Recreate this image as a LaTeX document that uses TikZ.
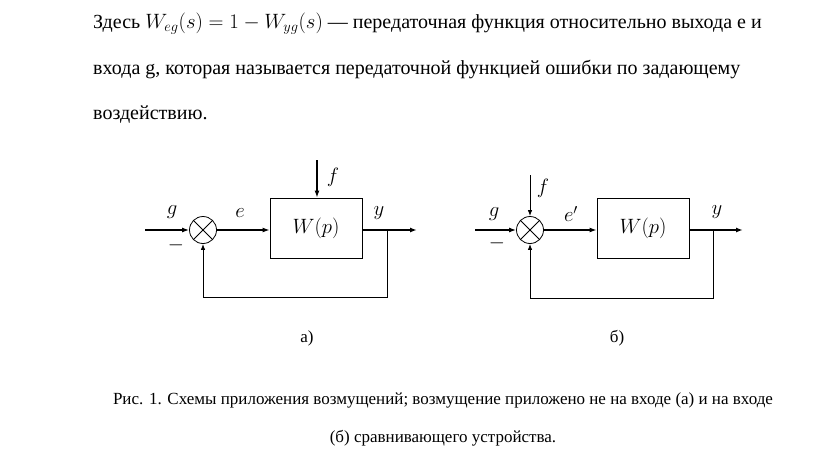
\documentclass[tikz,border=0pt]{standalone}
\usepackage{fontspec}
\setmainfont{Liberation Serif}
\usetikzlibrary{arrows.meta}

\begin{document}
\begin{tikzpicture}[x=1pt, y=-1pt]
\tikzstyle{textStyle} = [anchor=base west, inner sep=0pt, font=\fontsize{20}{22}\selectfont]
\tikzstyle{captionStyle} = [anchor=base, inner sep=0pt, font=\fontsize{17}{20}\selectfont]
\tikzstyle{sumStyle} = [shape = circle, minimum size = 27pt, inner sep = 0pt, draw, line width = 0.8pt]
\tikzstyle{blockStyle} = [shape = rectangle, minimum width = 92pt, minimum height = 60pt, draw, line width = 0.8pt, font=\fontsize{20}{22}\selectfont]
\tikzstyle{labelStyle} = [inner sep = 0pt, font=\fontsize{20}{22}\selectfont]
\tikzstyle{signal} = [line width = 1.4pt, -{Latex[length=7pt, width=5pt]}]
\tikzstyle{loop} = [line width = 0.9pt]
\useasboundingbox (0,0) rectangle (818,455);
% text above
\node[textStyle] (t1) at (93,28) {Здесь $W_{eg}(s)=1-W_{yg}(s)$ — передаточная функция относительно выхода е и};
\node[textStyle] (t2) at (93,74) {входа g, которая называется передаточной функцией ошибки по задающему};
\node[textStyle] (t3) at (93,119) {воздействию.};
% scheme a)
\node[sumStyle] (sa) at (203,230) {};
\draw[line width = 0.8pt] (sa.45) -- (sa.225) (sa.135) -- (sa.-45);
\node[blockStyle] (wa) at (316,228) {$W(p)$};
\coordinate (ga) at (145,230);
\coordinate (fa) at (317,160);
\coordinate (oa) at (417,230);
\coordinate (ba) at (387,230);
\coordinate (da) at (387,297);
\coordinate (ca) at (203,297);
\draw[signal] (ga) -- (sa);
\draw[signal] (sa) -- (wa.west |- sa);
\draw[signal] (fa) -- (wa.north -| fa);
\draw[signal] (wa.east |- oa) -- (oa);
\draw[loop] (ba) -- (da) -- (ca);
\draw[loop, -{Latex[length=6pt, width=4.5pt]}] (ca) -- (sa.south);
\node[labelStyle] (lga) at (172,212) {$g$};
\node[labelStyle] (lma) at (176,245) {$-$};
\node[labelStyle] (lea) at (240,213) {$e$};
\node[labelStyle] (lfa) at (333,177) {$f$};
\node[labelStyle] (lya) at (379,213) {$y$};
% scheme b)
\node[sumStyle] (sb) at (530,230) {};
\draw[line width = 0.8pt] (sb.45) -- (sb.225) (sb.135) -- (sb.-45);
\node[blockStyle] (wb) at (643,228) {$W(p)$};
\coordinate (gb) at (475,230);
\coordinate (fb) at (530,175);
\coordinate (ob) at (743,230);
\coordinate (bb) at (713,230);
\coordinate (db) at (713,298);
\coordinate (cb) at (530,298);
\draw[signal] (gb) -- (sb);
\draw[loop, -{Latex[length=6pt, width=4.5pt]}] (fb) -- (sb.north);
\draw[signal] (sb) -- (wb.west |- sb);
\draw[signal] (wb.east |- ob) -- (ob);
\draw[loop] (bb) -- (db) -- (cb);
\draw[loop, -{Latex[length=6pt, width=4.5pt]}] (cb) -- (sb.south);
\node[labelStyle] (lgb) at (494,214) {$g$};
\node[labelStyle] (lmb) at (497,243) {$-$};
\node[labelStyle] (leb) at (571,214) {$e'$};
\node[labelStyle] (lfb) at (543,188) {$f$};
\node[labelStyle] (lyb) at (717,212) {$y$};
% captions
\node[captionStyle] (ca1) at (307,342) {а)};
\node[captionStyle] (cb1) at (617,342) {б)};
\node[captionStyle] (cap1) at (443,404) {Рис. 1. Схемы приложения возмущений; возмущение приложено не на входе (а) и на входе};
\node[captionStyle] (cap2) at (443,442) {(б) сравнивающего устройства.};
\end{tikzpicture}
\end{document}
